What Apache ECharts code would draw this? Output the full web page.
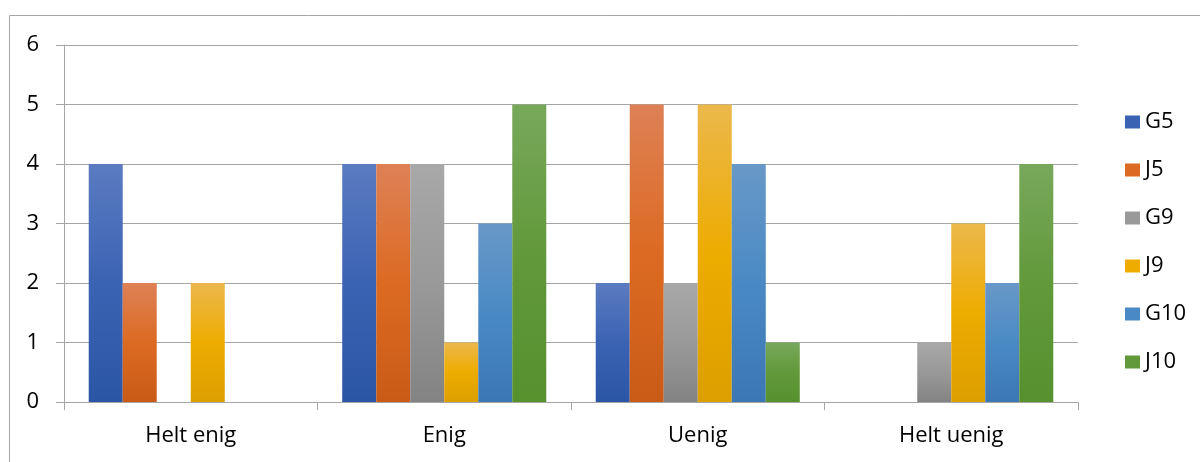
<!DOCTYPE html>
<html>
<head>
<meta charset="utf-8">
<script src="https://cdn.jsdelivr.net/npm/echarts@6/dist/echarts.min.js"></script>
<style>
  html, body { margin: 0; padding: 0; background: #ffffff; }
  #chart { width: 1200px; height: 462px; }
</style>
</head>
<body>
<div id="chart"></div>
<script>
// Answer categories
const categories = ['Helt enig', 'Enig', 'Uenig', 'Helt uenig'];

// Responses per class
const G5 = [4, 4, 2, 0];
const J5 = [2, 4, 5, 0];
const G9 = [0, 4, 2, 1];
const J9 = [2, 1, 5, 3];
const G10 = [0, 3, 4, 2];
const J10 = [0, 5, 1, 4];

const yTicks = [0, 1, 2, 3, 4, 5, 6];

const seriesDefs = [
  { name: 'G5', data: G5, colors: ['#5b7bc1', '#3b63b3', '#2b56a5'] },
  { name: 'J5', data: J5, colors: ['#de8156', '#dc6a22', '#c95b17'] },
  { name: 'G9', data: G9, colors: ['#a8a8a8', '#999999', '#838383'] },
  { name: 'J9', data: J9, colors: ['#ebb84c', '#eeac00', '#dc9f00'] },
  { name: 'G10', data: G10, colors: ['#6898c8', '#4a8ac4', '#3b77b3'] },
  { name: 'J10', data: J10, colors: ['#78a85b', '#62993b', '#56912e'] }
];

function grad(c) {
  return new echarts.graphic.LinearGradient(0, 0, 0, 1, [
    { offset: 0, color: c[0] },
    { offset: 0.5, color: c[1] },
    { offset: 1, color: c[2] }
  ]);
}

const chart = echarts.init(document.getElementById('chart'));
const fontFamily = '"Open Sans", "Noto Sans", sans-serif';

chart.setOption({
  animation: false,
  textStyle: { fontFamily: fontFamily },
  graphic: [{
    type: 'rect',
    shape: { x: 9.5, y: 15.5, width: 1300, height: 600 },
    style: { fill: 'none', stroke: '#a6a6a6', lineWidth: 1 },
    silent: true
  }],
  grid: { left: 64, right: 122, top: 45, bottom: 60, containLabel: false },
  legend: {
    orient: 'vertical',
    left: 1120,
    top: 106,
    itemWidth: 15,
    itemHeight: 13,
    itemGap: 26,
    icon: 'rect',
    textStyle: { fontSize: 22, color: '#000000', fontFamily: fontFamily },
    data: seriesDefs.map(s => ({ name: s.name, itemStyle: { color: s.colors[1] } }))
  },
  xAxis: {
    type: 'category',
    data: categories,
    axisLine: { lineStyle: { color: '#a6a6a6', width: 1 } },
    axisTick: { show: true, length: 8, lineStyle: { color: '#a6a6a6' } },
    axisLabel: { fontSize: 22, color: '#000000', margin: 23 },
    splitLine: { show: false }
  },
  yAxis: {
    type: 'value',
    min: yTicks[0],
    max: yTicks[yTicks.length - 1],
    interval: 1,
    axisLine: { show: true, lineStyle: { color: '#a6a6a6', width: 1 } },
    axisTick: { show: true, length: 8, lineStyle: { color: '#a6a6a6' } },
    axisLabel: { fontSize: 22, color: '#000000', margin: 25 },
    splitLine: { show: true, lineStyle: { color: '#a6a6a6', width: 1 } }
  },
  series: seriesDefs.map(s => ({
    name: s.name,
    type: 'bar',
    data: s.data,
    barGap: '0%',
    barCategoryGap: '19.5%',
    itemStyle: { color: grad(s.colors) }
  }))
});
</script>
</body>
</html>
